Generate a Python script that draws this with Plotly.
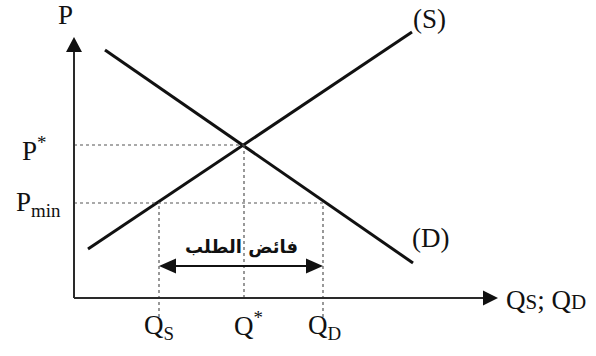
import plotly.graph_objects as go

# Market quantities and prices (1 unit = one tenth of the axis grid used below)
q_supply = [1.4, 33.8]
p_supply = [4.9, 26.6]
q_demand = [3.1, 33.9]
p_demand = [24.8, 3.5]

Q_S = 8.5
Q_STAR = 17.0
Q_D = 24.9
P_STAR = 15.3
P_MIN = 9.5

Q_AXIS_END = 42.4
P_AXIS_END = 26.1
SURPLUS_LEVEL = 3.2

SERIF = "Liberation Serif, Times New Roman, serif"
INK = "#111111"
AXIS = "#2a2a2a"
GUIDE = "#555555"


def arrow_head(tip_x, tip_y, dx, dy, length, width):
    """Triangle path with its tip at (tip_x, tip_y) pointing along (dx, dy)."""
    bx, by = tip_x - dx * length, tip_y - dy * length
    px, py = -dy * width / 2, dx * width / 2
    return (f"M{tip_x},{tip_y} L{bx + px},{by + py} "
            f"L{bx - px},{by - py} Z")


fig = go.Figure()

# Supply and demand curves
fig.add_trace(go.Scatter(x=q_supply, y=p_supply, mode="lines",
                         line=dict(color=INK, width=3), hoverinfo="skip"))
fig.add_trace(go.Scatter(x=q_demand, y=p_demand, mode="lines",
                         line=dict(color=INK, width=3), hoverinfo="skip"))

shapes = []
dash = dict(color=GUIDE, width=1.2, dash="3px,3px")

# Guide lines for equilibrium and price floor
shapes.append(dict(type="line", x0=0, x1=Q_STAR, y0=P_STAR, y1=P_STAR, line=dash))
shapes.append(dict(type="line", x0=Q_STAR, x1=Q_STAR, y0=0, y1=P_STAR, line=dash))
shapes.append(dict(type="line", x0=0, x1=Q_D, y0=P_MIN, y1=P_MIN, line=dash))
shapes.append(dict(type="line", x0=Q_S, x1=Q_S, y0=-1.9, y1=P_MIN, line=dash))
shapes.append(dict(type="line", x0=Q_D, x1=Q_D, y0=-1.9, y1=P_MIN, line=dash))

# Axes with arrow heads
axis_line = dict(color=AXIS, width=2)
shapes.append(dict(type="line", x0=0, x1=0, y0=0, y1=P_AXIS_END - 1.0, line=axis_line))
shapes.append(dict(type="line", x0=0, x1=Q_AXIS_END - 1.0, y0=0, y1=0, line=axis_line))
shapes.append(dict(type="path", path=arrow_head(0, P_AXIS_END, 0, 1, 1.5, 1.6),
                   fillcolor=INK, line=dict(width=0)))
shapes.append(dict(type="path", path=arrow_head(Q_AXIS_END, 0, 1, 0, 1.5, 1.5),
                   fillcolor=INK, line=dict(width=0)))

# Double-headed arrow marking the excess demand
shapes.append(dict(type="line", x0=Q_S + 1.2, x1=Q_D - 1.2, y0=SURPLUS_LEVEL,
                   y1=SURPLUS_LEVEL, line=dict(color=INK, width=2.2)))
shapes.append(dict(type="path", path=arrow_head(Q_S, SURPLUS_LEVEL, -1, 0, 1.7, 1.5),
                   fillcolor=INK, line=dict(width=0)))
shapes.append(dict(type="path", path=arrow_head(Q_D, SURPLUS_LEVEL, 1, 0, 1.7, 1.5),
                   fillcolor=INK, line=dict(width=0)))

font = dict(family=SERIF, size=27, color=INK)
annotations = [
    dict(x=-0.9, y=28.3, text="P", xanchor="center", yanchor="middle"),
    dict(x=-2.6, y=P_STAR - 0.4, text="P<sup>*</sup>", xanchor="right", yanchor="middle"),
    dict(x=-1.1, y=P_MIN - 0.1, text="P<sub>min</sub>", xanchor="right", yanchor="middle"),
    dict(x=Q_S, y=-1.0, text="Q<sub>S</sub>", xanchor="center", yanchor="top"),
    dict(x=Q_STAR + 0.4, y=-0.7, text="Q<sup>*</sup>", xanchor="center", yanchor="top"),
    dict(x=Q_D + 0.1, y=-1.0, text="Q<sub>D</sub>", xanchor="center", yanchor="top"),
    dict(x=43.0, y=-0.2,
         text="Q<span style='font-size:21px'>S</span>; Q<span style='font-size:21px'>D</span>",
         xanchor="left", yanchor="middle"),
    dict(x=q_supply[1] - 0.1, y=27.9, text="(S)", xanchor="left", yanchor="middle"),
    dict(x=q_demand[1] - 0.3, y=6.0, text="(D)", xanchor="left", yanchor="middle"),
]
for a in annotations:
    a.update(showarrow=False, xref="x", yref="y", font=font)

annotations.append(dict(x=(Q_S + Q_D) / 2, y=SURPLUS_LEVEL + 1.9, text="<b>فائض الطلب</b>",
                        showarrow=False, xref="x", yref="y", xanchor="center",
                        yanchor="middle",
                        font=dict(family="DejaVu Sans", size=18, color=INK)))

fig.update_layout(
    width=596, height=356,
    margin=dict(l=0, r=0, t=0, b=0),
    paper_bgcolor="white", plot_bgcolor="white",
    showlegend=False,
    shapes=shapes,
    annotations=annotations,
    xaxis=dict(range=[-7.4, 52.2], visible=False, fixedrange=True),
    yaxis=dict(range=[-5.8, 29.8], visible=False, fixedrange=True),
)

fig.write_html("out.html")
